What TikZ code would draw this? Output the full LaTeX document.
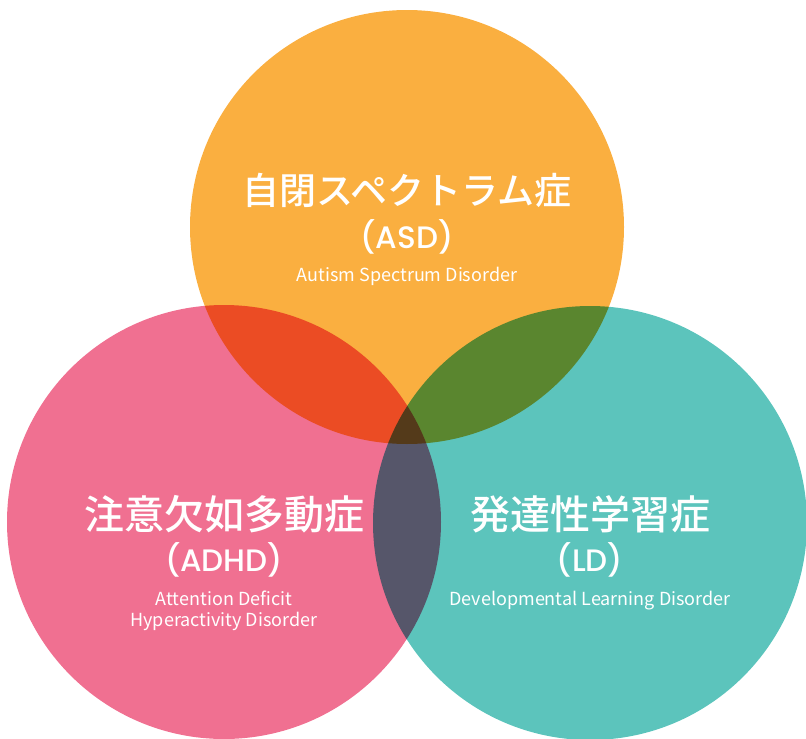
\documentclass[tikz,border=0pt]{standalone}
\usepackage{fontspec}
\setmainfont{Noto Sans CJK JP}[BoldFont={Noto Sans CJK JP Medium}]
\newfontfamily\abbrfont{Poppins}[BoldFont={Poppins Medium}]
\usetikzlibrary{positioning}

\definecolor{asdorange}{RGB}{250,175,64}
\definecolor{adhdpink}{RGB}{240,112,145}
\definecolor{ldteal}{RGB}{92,196,188}

\tikzset{
  title/.style={text=white, inner sep=0pt, font=\bfseries\fontsize{40}{40}\selectfont},
  abbr/.style={text=white, inner sep=0pt, font=\abbrfont\bfseries\fontsize{31}{31}\selectfont},
  eng/.style={text=white, inner sep=0pt, align=center, font=\fontsize{18}{21}\selectfont},
}

\begin{document}
\begin{tikzpicture}[x=1pt, y=-1pt]
  \useasboundingbox (0,0) rectangle (806,739);

  \coordinate (asd) at (407,227);
  \coordinate (adhd) at (224,522);
  \coordinate (ld) at (590,523);

  % the three circles, overlaps come from multiply
  \begin{scope}[transparency group]
    \pgfsetblendmode{multiply}
    \fill [asdorange] (asd) circle [radius=217pt];
    \fill [adhdpink] (adhd) circle [radius=217pt];
    \fill [ldteal] (ld) circle [radius=217pt];
  \end{scope}

  \node [title, font=\bfseries\fontsize{37}{40}\selectfont] (asdname) at (407,190) {自閉スペクトラム症};
  \node [abbr] (asdabbr) at (407,237) {(ASD)};
  \node [eng] (asdeng) at (407,276) {Autism Spectrum Disorder};

  \node [title] (adhdname) at (224,514) {注意欠如多動症};
  \node [abbr] (adhdabbr) at (224,560) {(ADHD)};
  \node [eng] (adhdeng) at (224,611) {Attention Deficit\\Hyperactivity Disorder};

  \node [title] (ldname) at (590,514) {発達性学習症};
  \node [abbr] (ldabbr) at (590,560) {(LD)};
  \node [eng] (ldeng) at (590,601) {Developmental Learning Disorder};
\end{tikzpicture}
\end{document}
